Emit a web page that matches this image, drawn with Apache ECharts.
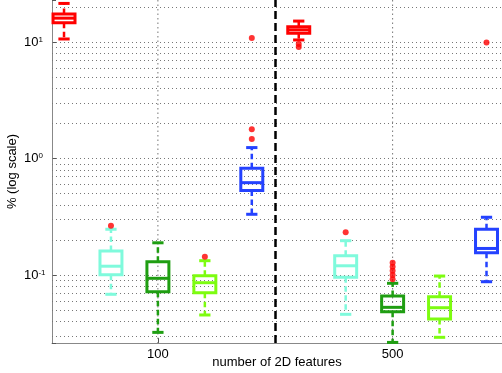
<!DOCTYPE html>
<html>
<head>
<meta charset="utf-8">
<script src="https://cdn.jsdelivr.net/npm/echarts@6/dist/echarts.min.js"></script>
<style>
  html, body { margin: 0; padding: 0; background: #fff; }
  #chart { width: 502px; height: 373px; }
</style>
</head>
<body>
<div id="chart"></div>
<script>
// box positions on the x axis (two groups of five)
var positions = [1, 2, 3, 4, 5, 6, 7, 8, 9, 10];
var tickPos = [3, 8];
var tickLabels = ['100', '500'];

// box statistics
var whiskerLow  = [10.6, 0.0683, 0.0322, 0.0454, 0.332, 10.4, 0.046, 0.0264, 0.0292, 0.0876];
var quart1      = [14.6, 0.1007, 0.0719, 0.0705, 0.53,  11.9, 0.0956, 0.0484, 0.0419, 0.155];
var medians     = [16.0, 0.119,  0.0937, 0.0859, 0.62,  12.7, 0.120, 0.0528, 0.0524, 0.169];
var quart3      = [17.4, 0.161,  0.130,  0.0986, 0.824, 13.5, 0.1465, 0.066, 0.0651, 0.247];
var whiskerHigh = [21.4, 0.247,  0.189,  0.1327, 1.24,  15.1, 0.197, 0.0849, 0.098, 0.313];

// outliers
var outlierPos = [2, 4, 5, 5, 5, 6, 6, 7, 8, 8, 8, 8, 8, 10];
var outlierVal = [0.265, 0.1435, 1.47, 1.78, 10.8, 9.6, 9.06, 0.2325, 0.1276, 0.1178, 0.1089, 0.1, 0.0919, 9.9];

// y axis
var yMin = 0.0261, yMax = 22.9;
var yGridValues = [0.03, 0.04, 0.05, 0.06, 0.07, 0.08, 0.09, 0.1,
  0.2, 0.3, 0.4, 0.5, 0.6, 0.7, 0.8, 0.9, 1,
  2, 3, 4, 5, 6, 7, 8, 9, 10, 20];
var dividerPos = 5.5;

var boxColors = ['#ff0000', '#7ffadc', '#1f9e12', '#7dfc10', '#2442ff',
                 '#ff0000', '#7ffadc', '#1f9e12', '#7dfc10', '#2442ff'];
var font = 'Liberation Sans, Arial, Helvetica, sans-serif';

var boxData = positions.map(function (p, i) {
  return [p, whiskerLow[i], quart1[i], medians[i], quart3[i], whiskerHigh[i]];
});
var outlierData = outlierPos.map(function (p, i) {
  return [p, outlierVal[i]];
});

// horizontal grid lines as mark lines (minor lines of the log axis included)
var gridLines = yGridValues.map(function (v) {
  return { yAxis: v, lineStyle: { color: '#777', width: 1, type: [1, 3] } };
});
gridLines.push({ xAxis: dividerPos, lineStyle: { color: '#000', width: 2.5, type: [8, 4] } });

function renderBox(params, api) {
  var x = api.value(0);
  var lo = api.coord([x, api.value(1)]);
  var q1 = api.coord([x, api.value(2)]);
  var md = api.coord([x, api.value(3)]);
  var q3 = api.coord([x, api.value(4)]);
  var hi = api.coord([x, api.value(5)]);
  var unit = api.coord([x + 1, api.value(3)])[0] - md[0];
  var cx = md[0];
  var bw = unit * 0.234;
  var cw = unit * 0.12;
  var c = boxColors[params.dataIndex];
  var dash = { stroke: c, lineWidth: 2.5, lineDash: [5.5, 3.5], fill: null };
  var solid = { stroke: c, lineWidth: 3, fill: null };
  return {
    type: 'group',
    children: [
      { type: 'line', shape: { x1: cx, y1: q3[1], x2: cx, y2: hi[1] }, style: dash },
      { type: 'line', shape: { x1: cx, y1: q1[1], x2: cx, y2: lo[1] }, style: dash },
      { type: 'line', shape: { x1: cx - cw, y1: hi[1], x2: cx + cw, y2: hi[1] }, style: solid },
      { type: 'line', shape: { x1: cx - cw, y1: lo[1], x2: cx + cw, y2: lo[1] }, style: solid },
      { type: 'rect', shape: { x: cx - bw, y: q3[1], width: 2 * bw, height: q1[1] - q3[1] }, style: solid },
      { type: 'line', shape: { x1: cx - bw, y1: md[1], x2: cx + bw, y2: md[1] }, style: solid }
    ]
  };
}

// vertical dotted grid lines at the labelled ticks
function renderTickLine(params, api) {
  var top = api.coord([api.value(0), yMax]);
  var bottom = api.coord([api.value(0), yMin]);
  return {
    type: 'line',
    shape: { x1: top[0], y1: top[1], x2: bottom[0], y2: bottom[1] },
    style: { stroke: '#777', lineWidth: 1, lineDash: [1.5, 3] }
  };
}

var chart = echarts.init(document.getElementById('chart'));
chart.setOption({
  animation: false,
  backgroundColor: '#fff',
  grid: { left: 52, right: 0, top: 0, bottom: 30, outerBoundsMode: 'none' },
  xAxis: {
    type: 'value',
    min: 0.744,
    max: 10.33,
    name: 'number of 2D features',
    nameLocation: 'middle',
    nameGap: 13,
    nameMoveOverlap: false,
    nameTextStyle: { fontSize: 13, color: '#000', fontFamily: font },
    axisLine: { show: true, lineStyle: { color: '#888', width: 1 } },
    axisTick: { show: true, inside: true, length: 5, customValues: tickPos, lineStyle: { color: '#555' } },
    axisLabel: {
      customValues: tickPos,
      margin: 5,
      fontSize: 13,
      color: '#000',
      fontFamily: font,
      formatter: function (v) {
        var i = tickPos.indexOf(v);
        return i >= 0 ? tickLabels[i] : '';
      }
    },
    splitLine: { show: false }
  },
  yAxis: {
    type: 'log',
    logBase: 10,
    min: yMin,
    max: yMax,
    name: '% (log scale)',
    nameLocation: 'middle',
    nameGap: 33,
    nameMoveOverlap: false,
    nameTextStyle: { fontSize: 13, color: '#000', fontFamily: font },
    axisLine: { show: true, lineStyle: { color: '#888', width: 1 } },
    axisTick: { show: true, inside: true, length: 4, lineStyle: { color: '#555' } },
    axisLabel: {
      align: 'left',
      margin: 28,
      color: '#000',
      fontFamily: font,
      formatter: function (v) {
        var e = Math.round(Math.log10(v));
        if (Math.abs(Math.log10(v) - e) > 1e-6) return '';
        return '{b|10}{s|' + e + '}';
      },
      rich: {
        b: { fontSize: 13, fontFamily: font, color: '#000' },
        s: { fontSize: 8, fontFamily: font, color: '#000', verticalAlign: 'top' }
      }
    },
    splitLine: { show: false }
  },
  series: [
    {
      type: 'custom',
      renderItem: renderTickLine,
      data: tickPos.map(function (p) { return [p, yMin]; }),
      z: 1,
      silent: true
    },
    {
      type: 'custom',
      renderItem: renderBox,
      data: boxData,
      encode: { x: 0, y: [1, 2, 3, 4, 5] },
      z: 3,
      silent: true,
      markLine: {
        silent: true,
        symbol: ['none', 'none'],
        label: { show: false },
        z: 1,
        data: gridLines
      }
    },
    {
      type: 'scatter',
      data: outlierData,
      symbol: 'circle',
      symbolSize: 6,
      itemStyle: { color: '#ff0000' },
      z: 4,
      silent: true
    }
  ]
});
</script>
</body>
</html>
